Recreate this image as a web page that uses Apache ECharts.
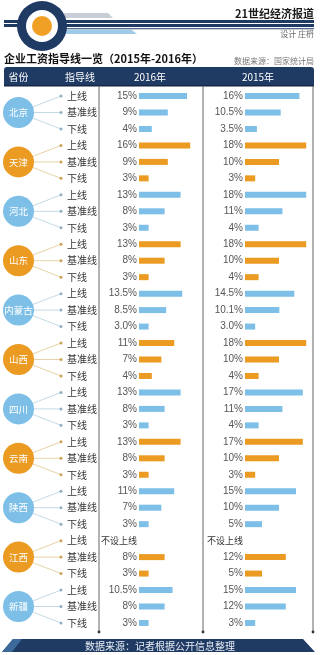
<!DOCTYPE html>
<html><head><meta charset="utf-8">
<script src="https://cdn.jsdelivr.net/npm/echarts@6/dist/echarts.min.js"></script>
<style>html,body{margin:0;padding:0;background:#fff}#c{width:324px;height:655px}</style>
</head><body><div id="c"></div>
<script>
// ---- data ----
const provinces = ['北京','天津','河北','山东','内蒙古','山西','四川','云南','陕西','江西','新疆'];
const rowNames = ['上线','基准线','下线'];
const years = ['2016年','2015年'];
const values2016 = [15,9,4, 16,9,3, 13,8,3, 13,8,3, 13.5,8.5,3.0, 11,7,4, 13,8,3, 13,8,3, 11,7,3, null,8,3, 10.5,8,3];
const values2015 = [16,10.5,3.5, 18,10,3, 18,11,4, 18,10,4, 14.5,10.1,3.0, 18,10,4, 17,11,4, 17,10,3, 15,10,5, null,12,5, 15,12,3];
const oneDecimalProvinces = ['内蒙古'];
const noCapText = '不设上线';

// ---- style ----
const BLUE = '#7dbfe6', ORANGE = '#eb9a22';
const NAVY = '#1f3a63';
const CJK = '"Noto Sans CJK SC","Noto Sans",sans-serif';
const LAT = '"Liberation Sans",Arial,sans-serif';
const tone = p => (p % 2 === 0 ? BLUE : ORANGE);
const lineTone = p => (p % 2 === 0 ? '#b4d0de' : '#e0c68f');
const dotTone = p => (p % 2 === 0 ? '#8fb0c2' : '#c9a256');

const nRows = provinces.length * 3;
const rowIdx = Array.from({length: nRows}, (_, i) => String(i));
const fmt = (v, i) => {
  if (v == null) return '{n|' + noCapText + '}';
  const p = provinces[Math.floor(i / 3)];
  return oneDecimalProvinces.includes(p) ? v.toFixed(1) + '%' : v + '%';
};

const TOP = 87.8, H = 543.4;
const grids = [
  {left: 0, top: TOP, width: 100, height: H},
  {left: 139, top: TOP, width: 64, height: H},
  {left: 245, top: TOP, width: 68, height: H}
];
const valueLabel = (arr) => ({
  show: true, interval: 0, margin: 2, align: 'right',
  color: '#555', fontSize: 10, fontFamily: LAT,
  formatter: (val, i) => fmt(arr[i], i),
  rich: {n: {fontSize: 9, fontFamily: CJK, color: '#333'}}
});
const yBase = {type: 'category', data: rowIdx, inverse: true,
  axisLine: {show: false}, axisTick: {show: false}, splitLine: {show: false}};

const barData = arr => arr.map((v, i) => ({value: v == null ? '-' : v, itemStyle: {color: tone(Math.floor(i / 3))}}));

const chart = echarts.init(document.getElementById('c'), null, {renderer: 'canvas'});

const graphics = [];
// header stripes
graphics.push({type: 'polygon', shape: {points: [[64,13],[108,13],[113,18],[64,18]]}, style: {fill: '#c9ced6'}});
graphics.push({type: 'rect', shape: {x: 4, y: 20, width: 310, height: 3}, style: {fill: NAVY}});
graphics.push({type: 'rect', shape: {x: 4, y: 24, width: 310, height: 3}, style: {fill: NAVY}});
graphics.push({type: 'rect', shape: {x: 60, y: 28.3, width: 254, height: 1}, style: {fill: NAVY}});
graphics.push({type: 'polygon', shape: {points: [[62,29.5],[131,29.5],[137,34],[62,34]]}, style: {fill: '#9fcbe8'}});
graphics.push({type: 'circle', shape: {cx: 42, cy: 26, r: 25}, style: {fill: NAVY}});
graphics.push({type: 'circle', shape: {cx: 42, cy: 26, r: 16}, style: {fill: '#fff'}});
graphics.push({type: 'circle', shape: {cx: 42, cy: 26, r: 10}, style: {fill: '#f0a024'}});
graphics.push({type: 'text', style: {text: '21世纪经济报道', x: 314, y: 14, textAlign: 'right', textVerticalAlign: 'middle', font: 'bold 11px ' + CJK, fill: '#1a1a1a'}});
graphics.push({type: 'text', style: {text: '设计 庄枬', x: 314, y: 34, textAlign: 'right', textVerticalAlign: 'middle', font: '8px ' + CJK, fill: '#666'}});
// title
graphics.push({type: 'text', style: {text: '企业工资指导线一览（2015年-2016年）', x: 4, y: 59, textAlign: 'left', textVerticalAlign: 'middle', font: 'bold 11px ' + CJK, fill: '#111'}});
graphics.push({type: 'text', style: {text: '数据来源：国家统计局', x: 314, y: 61, textAlign: 'right', textVerticalAlign: 'middle', font: '8px ' + CJK, fill: '#777'}});
// header bar
graphics.push({type: 'rect', shape: {x: 4, y: 67, width: 310, height: 19, r: [3,3,1,1]}, style: {fill: NAVY}});
graphics.push({type: 'rect', shape: {x: 4, y: 85, width: 310, height: 1.5}, style: {fill: '#142744'}});
[['省份',18.5],['指导线',80],[years[0],150],[years[1],258]].forEach(([t,x]) => {
  graphics.push({type: 'text', style: {text: t, x: x, y: 77, textAlign: 'center', textVerticalAlign: 'middle', font: '10px ' + CJK, fill: '#fff'}});
});
// column separators
[99, 203, 313].forEach(x => {
  graphics.push({type: 'line', shape: {x1: x, y1: 86, x2: x, y2: 632}, style: {stroke: '#666', lineWidth: 1}});
  graphics.push({type: 'circle', shape: {cx: x, cy: 632, r: 1.4}, style: {fill: '#333'}});
});
// footer
graphics.push({type: 'polygon', shape: {points: [[13,639],[303,639],[315,652],[2,652]]}, style: {fill: NAVY}});
graphics.push({type: 'polygon', shape: {points: [[13,639],[22,639],[12,652],[2,652]]}, style: {fill: '#3d6a9c'}});
graphics.push({type: 'text', style: {text: '数据来源：记者根据公开信息整理', x: 160, y: 646, textAlign: 'center', textVerticalAlign: 'middle', font: '10px ' + CJK, fill: '#e8eef6'}});

chart.setOption({
  animation: false,
  grid: grids,
  xAxis: [
    {gridIndex: 0, type: 'value', min: 0, max: 100, show: false},
    {gridIndex: 1, type: 'value', min: 0, max: 20, show: false},
    {gridIndex: 2, type: 'value', min: 0, max: 20, show: false}
  ],
  yAxis: [
    Object.assign({gridIndex: 0, axisLabel: {show: false}}, yBase),
    Object.assign({gridIndex: 1, axisLabel: valueLabel(values2016)}, yBase),
    Object.assign({gridIndex: 2, axisLabel: valueLabel(values2015)}, yBase)
  ],
  series: [
    {
      type: 'custom', xAxisIndex: 0, yAxisIndex: 0, silent: true,
      data: provinces.map((p, i) => [18, i * 3 + 1]),
      renderItem: (params, api) => {
        const p = params.dataIndex;
        const c = api.coord([18.5, p * 3 + 1]);
        const children = [];
        for (let k = 0; k < 3; k++) {
          const pt = api.coord([61, p * 3 + k]);
          children.push({type: 'line', shape: {x1: c[0], y1: c[1], x2: pt[0], y2: pt[1]}, style: {stroke: lineTone(p), lineWidth: 0.8}});
          children.push({type: 'circle', shape: {cx: pt[0], cy: pt[1], r: 1.5}, style: {fill: dotTone(p)}});
          children.push({type: 'text', style: {text: rowNames[k], x: 67, y: pt[1], textAlign: 'left', textVerticalAlign: 'middle', font: '10px ' + CJK, fill: '#333'}});
        }
        children.push({type: 'circle', shape: {cx: c[0], cy: c[1], r: 15.5}, style: {fill: tone(p)}});
        children.push({type: 'text', style: {text: provinces[p], x: c[0], y: c[1], textAlign: 'center', textVerticalAlign: 'middle', font: '9.5px ' + CJK, fill: '#fff'}});
        return {type: 'group', children: children};
      }
    },
    {type: 'bar', xAxisIndex: 1, yAxisIndex: 1, barWidth: 6, data: barData(values2016), silent: true},
    {type: 'bar', xAxisIndex: 2, yAxisIndex: 2, barWidth: 6, data: barData(values2015), silent: true}
  ],
  graphic: graphics
});
</script>
</body></html>
